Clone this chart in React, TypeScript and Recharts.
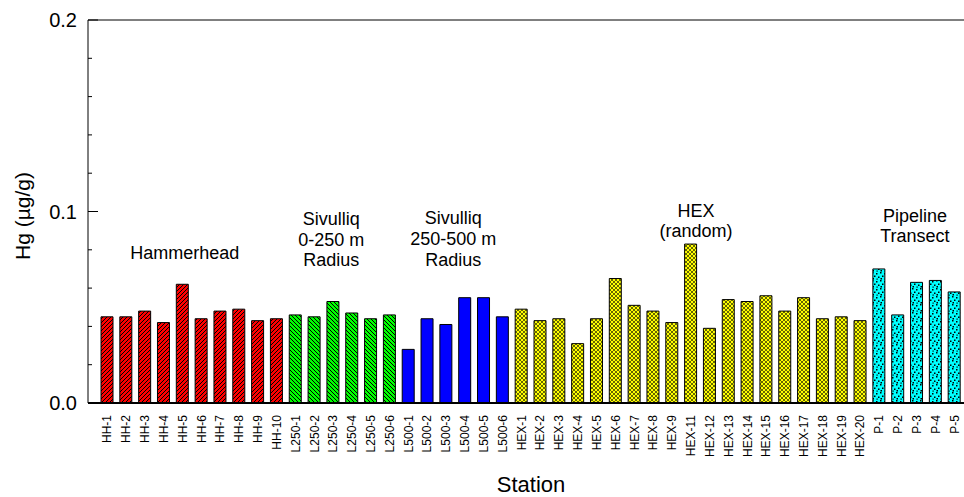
import React from 'react';
import { BarChart, Bar, XAxis, YAxis, Cell, ReferenceLine, ReferenceDot } from 'recharts';

const stations = [
  'HH-1', 'HH-2', 'HH-3', 'HH-4', 'HH-5', 'HH-6', 'HH-7', 'HH-8', 'HH-9', 'HH-10',
  'L250-1', 'L250-2', 'L250-3', 'L250-4', 'L250-5', 'L250-6',
  'L500-1', 'L500-2', 'L500-3', 'L500-4', 'L500-5', 'L500-6',
  'HEX-1', 'HEX-2', 'HEX-3', 'HEX-4', 'HEX-5', 'HEX-6', 'HEX-7', 'HEX-8', 'HEX-9',
  'HEX-11', 'HEX-12', 'HEX-13', 'HEX-14', 'HEX-15', 'HEX-16', 'HEX-17', 'HEX-18', 'HEX-19', 'HEX-20',
  'P-1', 'P-2', 'P-3', 'P-4', 'P-5',
];

const hgValues = [
  0.045, 0.045, 0.048, 0.042, 0.062, 0.044, 0.048, 0.049, 0.043, 0.044,
  0.046, 0.045, 0.053, 0.047, 0.044, 0.046,
  0.028, 0.044, 0.041, 0.055, 0.055, 0.045,
  0.049, 0.043, 0.044, 0.031, 0.044, 0.065, 0.051, 0.048, 0.042,
  0.083, 0.039, 0.054, 0.053, 0.056, 0.048, 0.055, 0.044, 0.045, 0.043,
  0.070, 0.046, 0.063, 0.064, 0.058,
];

const groupPrefixes = ['HH', 'L250', 'L500', 'HEX', 'P'];
const groupFills = ['url(#patRed)', 'url(#patGreen)', '#0000ff', 'url(#patYellow)', 'url(#patCyan)'];

const yTicks = [0, 0.02, 0.04, 0.06, 0.08, 0.1, 0.12, 0.14, 0.16, 0.18, 0.2];
const yMajorTicks = [0, 0.1, 0.2];

const annotations = [
  { x: 'HH-5', y: 0.0752, dx: 2, lines: ['Hammerhead'] },
  { x: 'L250-3', y: 0.0929, dx: -2, lines: ['Sivulliq', '0-250 m', 'Radius'] },
  { x: 'L500-3', y: 0.0933, dx: 7, lines: ['Sivulliq', '250-500 m', 'Radius'] },
  { x: 'HEX-11', y: 0.0973, dx: 5, lines: ['HEX', '(random)'] },
  { x: 'P-3', y: 0.0947, dx: -2, lines: ['Pipeline', 'Transect'] },
];

const FONT = '"Liberation Sans", Arial, Helvetica, sans-serif';

const data = stations.map((s, i) => ({ station: s, hg: hgValues[i] }));

const groupIndex = (s: string) => groupPrefixes.indexOf(s.split('-')[0]);

const XTick = (props: any) => {
  const { x, y, payload } = props;
  const ty = y + 12;
  return (
    <text
      x={x}
      y={ty}
      transform={`rotate(-90, ${x}, ${ty})`}
      textAnchor="end"
      dominantBaseline="central"
      fontFamily={FONT}
      fontSize={12}
      fill="#000"
    >
      {payload.value}
    </text>
  );
};

const YTick = (props: any) => {
  const { x, y, payload } = props;
  const v = payload.value;
  const major = yMajorTicks.some((m) => Math.abs(m - v) < 1e-9);
  return (
    <g>
      <line x1={x} x2={x + (major ? 10 : 4)} y1={y} y2={y} stroke="#000" strokeWidth={1} />
      {major && (
        <text
          x={x - 11}
          y={y}
          textAnchor="end"
          dominantBaseline="central"
          fontFamily={FONT}
          fontSize={20}
          fill="#000"
        >
          {v.toFixed(1)}
        </text>
      )}
    </g>
  );
};

const makeAnnLabel = (lines: string[], dx: number) => (props: any) => {
  const vb = props.viewBox || {};
  const cx = (vb.x ?? 0) + (vb.width ?? 0) / 2 + dx;
  const cy = (vb.y ?? 0) + (vb.height ?? 0) / 2;
  return (
    <text textAnchor="middle" fontFamily={FONT} fontSize={18} fill="#000">
      {lines.map((l, i) => (
        <tspan key={i} x={cx} y={cy + i * 20.6}>
          {l}
        </tspan>
      ))}
    </text>
  );
};

export default function App() {
  return (
    <div style={{ position: 'absolute', left: 0, top: 0, width: 964, height: 497, background: '#fff' }}>
      <BarChart
        width={964}
        height={497}
        data={data}
        margin={{ top: 20, right: 0, bottom: 0, left: 0 }}
        barCategoryGap={0}
      >
        <defs>
          <pattern id="patRed" patternUnits="userSpaceOnUse" width="4" height="4">
            <rect width="4" height="4" fill="#ff0000" />
            <path d="M-1,1 l2,-2 M0,4 l4,-4 M3,5 l2,-2" stroke="#000" strokeWidth="1" />
          </pattern>
          <pattern id="patGreen" patternUnits="userSpaceOnUse" width="4" height="4">
            <rect width="4" height="4" fill="#00ff00" />
            <path d="M-1,3 l2,2 M0,0 l4,4 M3,-1 l2,2" stroke="#000" strokeWidth="1" />
          </pattern>
          <pattern id="patYellow" patternUnits="userSpaceOnUse" width="4" height="4">
            <rect width="4" height="4" fill="#ffff00" />
            <path d="M0,0 l4,4 M4,0 l-4,4" stroke="#000" strokeWidth="0.6" />
          </pattern>
          <pattern id="patCyan" patternUnits="userSpaceOnUse" width="8" height="8">
            <rect width="8" height="8" fill="#00ffff" />
            <rect x="0" y="0" width="1.5" height="1.5" fill="#000" />
            <rect x="4" y="1" width="1.5" height="1.5" fill="#000" />
            <rect x="2" y="3.5" width="1.5" height="1.5" fill="#000" />
            <rect x="6" y="4.5" width="1.5" height="1.5" fill="#000" />
            <rect x="0.5" y="6" width="1.5" height="1.5" fill="#000" />
            <rect x="4.5" y="6.5" width="1.2" height="1.2" fill="#000" />
          </pattern>
        </defs>
        <XAxis
          dataKey="station"
          interval={0}
          tickSize={0}
          tickMargin={0}
          tickLine={false}
          tick={<XTick />}
          height={94}
          padding={{ left: 10, right: 0 }}
          axisLine={{ stroke: '#000', strokeWidth: 2 }}
        />
        <YAxis
          type="number"
          domain={[0, 0.2]}
          ticks={yTicks}
          interval={0}
          width={88}
          tickSize={0}
          tickMargin={0}
          tickLine={false}
          tick={<YTick />}
          axisLine={{ stroke: '#000', strokeWidth: 1 }}
        />
        <ReferenceLine y={0.2} stroke="#000" strokeWidth={1} />
        <Bar dataKey="hg" barSize={12} stroke="#000" strokeWidth={1} isAnimationActive={false}>
          {data.map((d, i) => (
            <Cell key={i} fill={groupFills[groupIndex(d.station)]} />
          ))}
        </Bar>
        {annotations.map((a, i) => (
          <ReferenceDot
            key={i}
            x={a.x}
            y={a.y}
            r={0}
            fill="none"
            stroke="none"
            label={makeAnnLabel(a.lines, a.dx)}
          />
        ))}
        <text
          x={30}
          y={216}
          transform="rotate(-90, 30, 216)"
          textAnchor="middle"
          fontFamily={FONT}
          fontSize={21}
          fill="#000"
        >
          Hg (µg/g)
        </text>
        <text x={531} y={492} textAnchor="middle" fontFamily={FONT} fontSize={22} fill="#000">
          Station
        </text>
      </BarChart>
    </div>
  );
}
